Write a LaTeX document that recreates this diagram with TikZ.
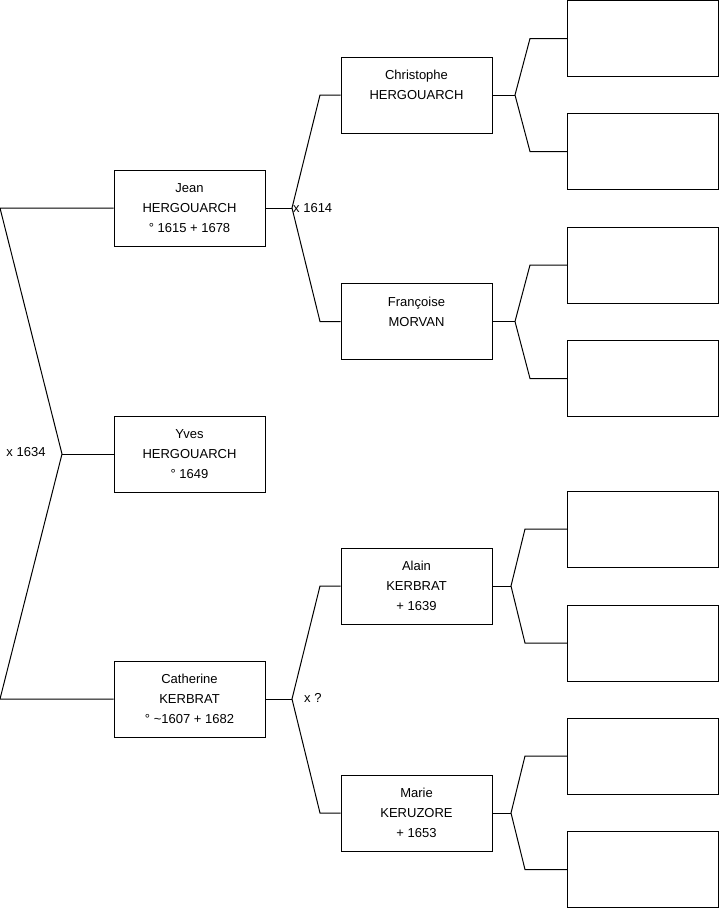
\documentclass[tikz,border=0pt]{standalone}
\usepackage{fontspec}
\setmainfont{Liberation Sans}
\begin{document}
\begin{tikzpicture}[x=1pt,y=-1pt,
  person/.style={draw=black, line width=1pt, fill=white, minimum width=151pt, minimum height=76pt,
    inner sep=0pt, align=center, font=\fontsize{13}{20}\selectfont},
  conn/.style={draw=black, line width=1pt},
  lbl/.style={inner sep=0pt, font=\fontsize{13}{15}\selectfont}]
\useasboundingbox (0,0) rectangle (719,908);
% generation 1
\node[person] (jean) at (189.5,208) {Jean\\HERGOUARCH\\° 1615 + 1678};
\node[person] (yves) at (189.5,454) {Yves\\HERGOUARCH\\° 1649};
\node[person] (cath) at (189.5,699) {Catherine\\KERBRAT\\° \textasciitilde1607 + 1682};
% generation 2
\node[person] (chris) at (416.5,95) {Christophe\\HERGOUARCH\\\mbox{}};
\node[person] (fran) at (416.5,321.5) {Françoise\\MORVAN\\\mbox{}};
\node[person] (alain) at (416.5,586) {Alain\\KERBRAT\\+ 1639};
\node[person] (marie) at (416.5,813) {Marie\\KERUZORE\\+ 1653};
% generation 3
\node[person] (g1) at (643,38.5) {};
\node[person] (g2) at (643,151.5) {};
\node[person] (g3) at (643,265) {};
\node[person] (g4) at (643,378.5) {};
\node[person] (g5) at (643,529) {};
\node[person] (g6) at (643,643) {};
\node[person] (g7) at (643,756) {};
\node[person] (g8) at (643,869.5) {};
% left bracket
\coordinate (t0) at (0,208);
\coordinate (v0) at (62,454);
\coordinate (b0) at (0,699);
\draw[conn] (jean.west) -- (t0) -- (v0) -- (b0) -- (cath.west);
\draw[conn] (v0) -- (yves.west);
\node[lbl] (m0) at (26,452) {x 1634};
% Jean bracket
\coordinate (v1) at (292,208);
\coordinate (u1) at (320,95);
\coordinate (l1) at (320,321.5);
\draw[conn] (jean.east) -- (v1);
\draw[conn] (chris.west) -- (u1) -- (v1) -- (l1) -- (fran.west);
\node[lbl, anchor=west] (m1) at (293,208) {x 1614};
% Catherine bracket
\coordinate (v2) at (292,699);
\coordinate (u2) at (320,586);
\coordinate (l2) at (320,813);
\draw[conn] (cath.east) -- (v2);
\draw[conn] (alain.west) -- (u2) -- (v2) -- (l2) -- (marie.west);
\node[lbl, anchor=west] (m2) at (304,698) {x ?};
% Christophe bracket
\coordinate (v3) at (515,95);
\coordinate (u3) at (530,38.5);
\coordinate (l3) at (530,151.5);
\draw[conn] (chris.east) -- (v3);
\draw[conn] (g1.west) -- (u3) -- (v3) -- (l3) -- (g2.west);
% Françoise bracket
\coordinate (v4) at (515,321.5);
\coordinate (u4) at (530,265);
\coordinate (l4) at (530,378.5);
\draw[conn] (fran.east) -- (v4);
\draw[conn] (g3.west) -- (u4) -- (v4) -- (l4) -- (g4.west);
% Alain bracket
\coordinate (v5) at (511,586);
\coordinate (u5) at (525,529);
\coordinate (l5) at (525,643);
\draw[conn] (alain.east) -- (v5);
\draw[conn] (g5.west) -- (u5) -- (v5) -- (l5) -- (g6.west);
% Marie bracket
\coordinate (v6) at (511,813);
\coordinate (u6) at (525,756);
\coordinate (l6) at (525,869.5);
\draw[conn] (marie.east) -- (v6);
\draw[conn] (g7.west) -- (u6) -- (v6) -- (l6) -- (g8.west);
\end{tikzpicture}
\end{document}
